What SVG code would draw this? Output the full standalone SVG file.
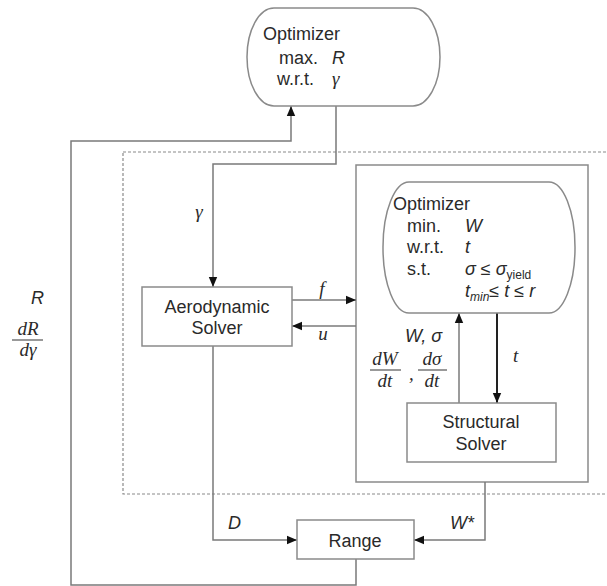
<svg xmlns="http://www.w3.org/2000/svg" width="607" height="586" viewBox="0 0 607 586">
<style>
.box{fill:#fff;stroke:#8a8a8a;stroke-width:1.5}
.ln{fill:none;stroke:#7a7a7a;stroke-width:1.5}
.dk{fill:none;stroke:#222;stroke-width:2}
.dash{fill:none;stroke:#8a8a8a;stroke-width:1.2;stroke-dasharray:3,2}
.t{font-family:"Liberation Sans",Arial,sans-serif;font-size:18px;fill:#2a2a2a}
.c{text-anchor:middle}
.i{font-style:italic}
.m{font-family:"Liberation Serif","Times New Roman",serif;font-style:italic;font-size:19px;fill:#2a2a2a}
</style>
<defs>
<marker id="ah" markerUnits="userSpaceOnUse" markerWidth="10" markerHeight="10" viewBox="0 0 10 10" refX="10" refY="5" orient="auto">
<path d="M0,0.8 L10,5 L0,9.2 Z" fill="#111"/>
</marker>
</defs>
<rect width="607" height="586" fill="#fff"/>

<g id="analysis-boundary">
<rect class="dash" x="123" y="152" width="490" height="342"/>
</g>
<g id="structural-subsystem">
<rect class="box" x="356" y="165" width="232" height="317"/>
</g>

<g id="connectors">
<path class="ln" d="M356,559 V585 H71 V141 H291 V106" marker-end="url(#ah)"/>
<path class="ln" d="M336,106 V164 H213 V287" marker-end="url(#ah)"/>
<path class="ln" d="M292,300 H356" marker-end="url(#ah)"/>
<path class="ln" d="M356,326 H292" marker-end="url(#ah)"/>
<path class="ln" d="M213,346 V540 H297" marker-end="url(#ah)"/>
<path class="ln" d="M485,482 V540 H414" marker-end="url(#ah)"/>
<path class="ln" d="M459,403 V313" marker-end="url(#ah)"/>
<path class="dk" d="M497,313 V403" marker-end="url(#ah)"/>
</g>

<g id="labels">
<text class="m" x="199" y="218" text-anchor="middle">γ</text>
<text class="t i" x="31" y="304">R</text>
<text class="m" x="28" y="335" text-anchor="middle">dR</text>
<line x1="12" y1="340" x2="43" y2="340" stroke="#555" stroke-width="1.2"/>
<text class="m" x="28" y="356" text-anchor="middle">dγ</text>
<text class="m" x="322" y="295" text-anchor="middle">f</text>
<text class="m" x="323" y="340" text-anchor="middle">u</text>
<text class="t i" x="405" y="342">W, σ</text>
<text class="m" x="385" y="365" text-anchor="middle">dW</text>
<line x1="370" y1="370" x2="401" y2="370" stroke="#555" stroke-width="1.2"/>
<text class="m" x="385" y="387" text-anchor="middle">dt</text>
<text class="m" x="409" y="380">,</text>
<text class="m" x="432" y="365" text-anchor="middle">dσ</text>
<line x1="418" y1="370" x2="447" y2="370" stroke="#555" stroke-width="1.2"/>
<text class="m" x="432" y="387" text-anchor="middle">dt</text>
<text class="m" x="513" y="362">t</text>
<text class="t i" x="228" y="529">D</text>
<text class="t i" x="450" y="529">W*</text>
</g>

<g id="system-optimizer">
<rect class="box" x="247" y="8" width="193" height="98" rx="27" ry="49"/>
<text class="t" x="263" y="40">Optimizer</text>
<text class="t" x="279" y="64">max.</text>
<text class="t i" x="332" y="64">R</text>
<text class="t" x="277" y="85">w.r.t.</text>
<text class="m" x="332" y="85">γ</text>
</g>

<g id="aerodynamic-solver">
<rect class="box" x="142" y="287" width="150" height="59"/>
<text class="t c" x="217" y="313">Aerodynamic</text>
<text class="t c" x="217" y="334">Solver</text>
</g>

<g id="structural-optimizer">
<rect class="box" x="383" y="182" width="192" height="131" rx="26" ry="65"/>
<text class="t" x="393" y="210">Optimizer</text>
<text class="t" x="407" y="232">min.</text>
<text class="t i" x="465" y="232">W</text>
<text class="t" x="407" y="253">w.r.t.</text>
<text class="t i" x="465" y="253">t</text>
<text class="t" x="407" y="275">s.t.</text>
<text class="t" x="465" y="275"><tspan class="i">σ</tspan> ≤ <tspan class="i">σ</tspan><tspan font-size="12" dy="4">yield</tspan></text>
<text class="t" x="465" y="297"><tspan class="i">t</tspan><tspan class="i" font-size="12" dy="4">min</tspan><tspan dy="-4">≤ </tspan><tspan class="i">t</tspan> ≤ <tspan class="i">r</tspan></text>
</g>

<g id="structural-solver">
<rect class="box" x="407" y="403" width="149" height="59"/>
<text class="t c" x="481" y="428">Structural</text>
<text class="t c" x="481" y="450">Solver</text>
</g>

<g id="range">
<rect class="box" x="297" y="520" width="117" height="39"/>
<text class="t c" x="355" y="547">Range</text>
</g>
</svg>
